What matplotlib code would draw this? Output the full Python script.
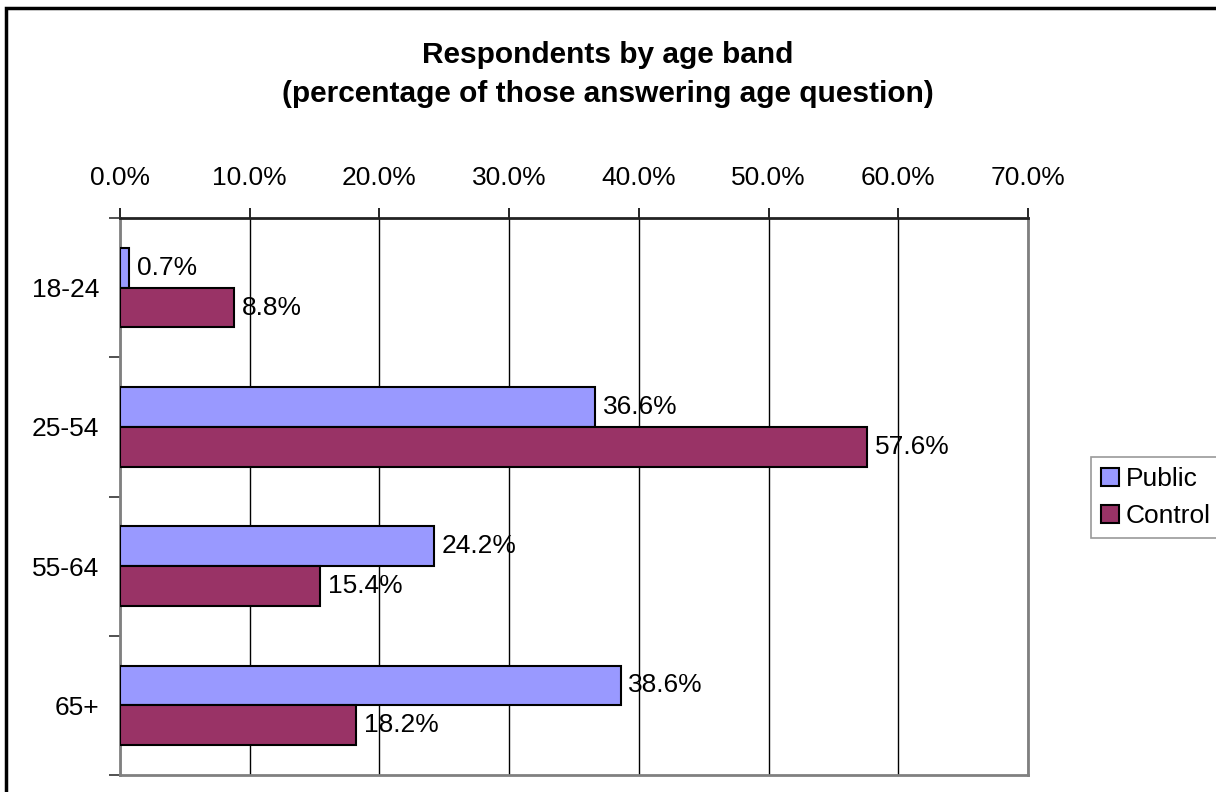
import matplotlib
matplotlib.use('Agg')
import matplotlib.pyplot as plt
from matplotlib.patches import Rectangle
from matplotlib.ticker import FixedLocator, FuncFormatter
import numpy as np

plt.rcParams['font.family'] = ['Liberation Sans', 'DejaVu Sans']

# Age bands and percentages
age_bands = ['18-24', '25-54', '55-64', '65+']
public_pct = [0.7, 36.6, 24.2, 38.6]
control_pct = [8.8, 57.6, 15.4, 18.2]
title_lines = ['Respondents by age band',
               '(percentage of those answering age question)']

PUBLIC_COLOR = '#9999FF'
CONTROL_COLOR = '#993366'
FS = 19
TITLE_FS = 21.5

W, H = 1216, 792
fig = plt.figure(figsize=(W / 100, H / 100), dpi=100)
ax = fig.add_axes([120 / W, 17 / H, 908 / W, 557 / H])

n = len(age_bands)
y = np.arange(n)
bar_h = 1 / 3.5

ax.barh(y - bar_h / 2, public_pct, height=bar_h, color=PUBLIC_COLOR,
        edgecolor='black', linewidth=1.5, zorder=3, label='Public')
ax.barh(y + bar_h / 2, control_pct, height=bar_h, color=CONTROL_COLOR,
        edgecolor='black', linewidth=1.5, zorder=3, label='Control')

# Value labels at bar ends
for i in range(n):
    ax.text(public_pct[i] + 0.6, y[i] - bar_h / 2, f'{public_pct[i]:.1f}%',
            va='center', ha='left', fontsize=FS, zorder=4)
    ax.text(control_pct[i] + 0.6, y[i] + bar_h / 2, f'{control_pct[i]:.1f}%',
            va='center', ha='left', fontsize=FS, zorder=4)

ax.set_xlim(0, 70)
ax.set_ylim(n - 0.5, -0.5)

# Percentage axis on top
ax.xaxis.tick_top()
ax.set_xticks(np.arange(0, 71, 10))
ax.xaxis.set_major_formatter(FuncFormatter(lambda v, p: f'{v:.1f}%'))
ax.tick_params(axis='x', which='major', labelsize=FS, length=7, width=1.2,
               pad=13, color='black')
ax.grid(axis='x', color='black', linewidth=1, zorder=1)

# Category labels centred, tick marks between categories
ax.set_yticks(y)
ax.set_yticklabels(age_bands)
ax.yaxis.set_minor_locator(FixedLocator(np.arange(-0.5, n, 1.0)))
ax.tick_params(axis='y', which='major', length=0, labelsize=FS, pad=15)
ax.tick_params(axis='y', which='minor', length=8, width=1.2, color='#333333')

for side in ['left', 'right', 'bottom']:
    ax.spines[side].set_color('#808080')
    ax.spines[side].set_linewidth(2)
ax.spines['top'].set_color('#222222')
ax.spines['top'].set_linewidth(2)

# Two-line bold title
fig.text(0.5, 1 - 63 / H, title_lines[0], ha='center', va='baseline',
         fontsize=TITLE_FS, fontweight='bold')
fig.text(0.5, 1 - 102 / H, title_lines[1], ha='center', va='baseline',
         fontsize=TITLE_FS, fontweight='bold')

leg = fig.legend(loc='upper left', bbox_to_anchor=(1091 / W, 1 - 457 / H),
                 fontsize=FS, frameon=True, fancybox=False, edgecolor='#808080',
                 handlelength=0.68, handleheight=0.68, handletextpad=0.27,
                 borderpad=0.38, labelspacing=0.5, borderaxespad=0)
leg.get_frame().set_linewidth(1.2)

# Outer chart border
fig.patches.append(Rectangle((6 / W, -0.05), 1.1, 1 - 8 / H + 0.05,
                             transform=fig.transFigure, fill=False,
                             edgecolor='black', linewidth=2.5, clip_on=False))

fig.savefig('out.png', dpi=100)
